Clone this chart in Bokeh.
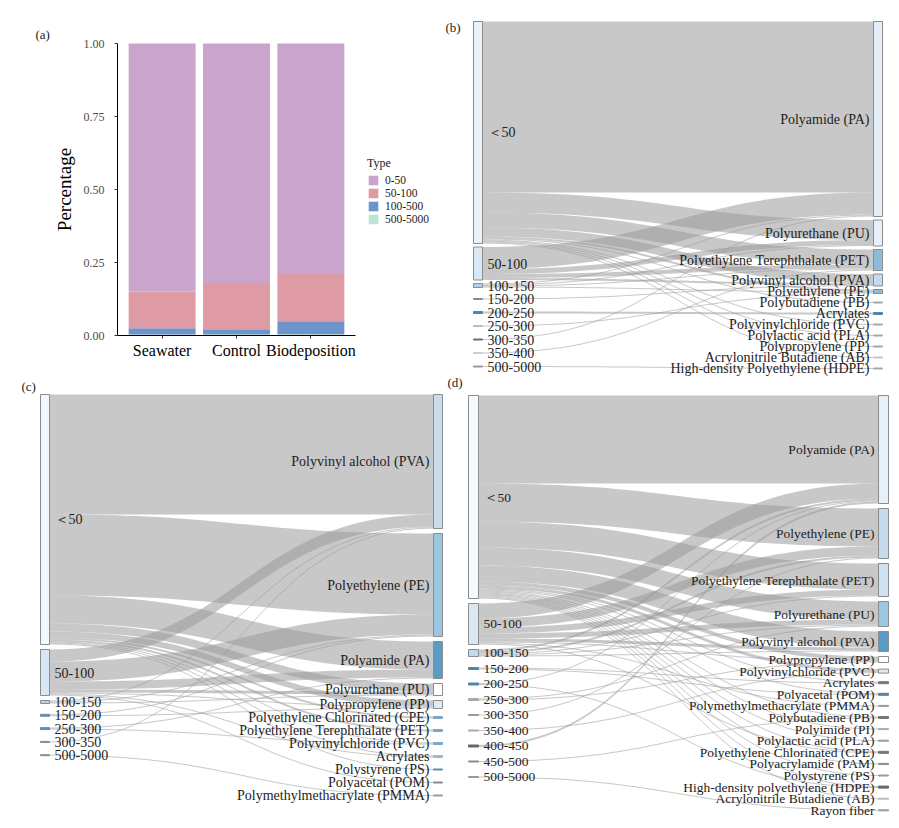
import numpy as np
from bokeh.plotting import figure
from bokeh.models import (Range1d, FixedTicker, Legend, LegendItem, LinearAxis,
                          ColumnDataSource, PrintfTickFormatter)
from bokeh.layouts import row, column
from bokeh.embed import file_html
from bokeh.resources import INLINE
from bokeh.core.properties import value

SERIF = "Liberation Serif"

# ---------------- (a) stacked shares ----------------
groups = ["Seawater", "Control", "Biodeposition"]
types = ["0-50", "50-100", "100-500", "500-5000"]
share_0_50 = [0.849, 0.820, 0.789]
share_50_100 = [0.126, 0.159, 0.162]
share_100_500 = [0.022, 0.018, 0.045]
share_500_5000 = [0.003, 0.003, 0.004]
y_ticks = [0.0, 0.25, 0.5, 0.75, 1.0]

# ---------------- (b) Seawater sankey ----------------
b_left = ["＜50", "50-100", "100-150", "150-200", "200-250", "250-300",
          "300-350", "350-400", "500-5000"]
b_right = ["Polyamide (PA)", "Polyurethane (PU)", "Polyethylene Terephthalate (PET)",
           "Polyvinyl alcohol (PVA)", "Polyethylene (PE)", "Polybutadiene (PB)",
           "Acrylates", "Polyvinylchloride (PVC)", "Polylactic acid (PLA)",
           "Polypropylene (PP)", "Acrylonitrile Butadiene (AB)",
           "High-density Polyethylene (HDPE)"]
b_src = [0, 0, 0, 0, 0, 0, 0, 0, 0, 0, 1, 1, 1, 1, 2, 2, 2, 2, 3, 4, 5, 6, 7, 8]
b_tgt = [0, 1, 2, 3, 4, 5, 7, 8, 9, 10, 0, 1, 2, 3, 0, 1, 2, 4, 3, 6, 4, 0, 2, 11]
b_val = [171, 20, 15, 9, 2, 1, 1, 1, 1, 1, 22, 5, 4, 2, 1, 1, 1, 1, 1, 2, 1, 1, 1, 1]

# ---------------- (c) Control sankey ----------------
c_left = ["＜50", "50-100", "100-150", "150-200", "250-300", "300-350", "500-5000"]
c_right = ["Polyvinyl alcohol (PVA)", "Polyethylene (PE)", "Polyamide (PA)",
           "Polyurethane (PU)", "Polypropylene (PP)", "Polyethylene Chlorinated (CPE)",
           "Polyethylene Terephthalate (PET)", "Polyvinylchloride (PVC)", "Acrylates",
           "Polystyrene (PS)", "Polyacetal (POM)", "Polymethylmethacrylate (PMMA)"]
c_src = [0, 0, 0, 0, 0, 0, 0, 0, 0, 0,
         1, 1, 1, 1, 1, 1, 1,
         2, 2, 2, 3, 3, 4, 4, 5, 6]
c_tgt = [0, 1, 2, 3, 4, 5, 6, 7, 8, 9,
         0, 1, 2, 3, 4, 8, 10,
         0, 1, 3, 1, 4, 2, 7, 0, 11]
c_val = [120, 81, 28, 8, 6, 2, 2, 1, 1, 1,
         12, 20, 8, 3, 1, 1, 1,
         1, 1, 1, 1, 1, 1, 1, 1, 1]

# ---------------- (d) Biodeposition sankey ----------------
d_left = ["＜50", "50-100", "100-150", "150-200", "200-250", "250-300", "300-350",
          "350-400", "400-450", "450-500", "500-5000"]
d_right = ["Polyamide (PA)", "Polyethylene (PE)", "Polyethylene Terephthalate (PET)",
           "Polyurethane (PU)", "Polyvinyl alcohol (PVA)", "Polypropylene (PP)",
           "Polyvinylchloride (PVC)", "Acrylates", "Polyacetal (POM)",
           "Polymethylmethacrylate (PMMA)", "Polybutadiene (PB)", "Polyimide (PI)",
           "Polylactic acid (PLA)", "Polyethylene Chlorinated (CPE)",
           "Polyacrylamide (PAM)", "Polystyrene (PS)", "High-density polyethylene (HDPE)",
           "Acrylonitrile Butadiene (AB)", "Rayon fiber"]
d_src = [0, 0, 0, 0, 0, 0, 0, 0, 0, 0, 0, 0, 0, 0, 0, 0, 0,
         1, 1, 1, 1, 1, 1, 1, 1,
         2, 2, 2, 2, 2, 3, 3, 4, 4, 5, 5, 6, 7, 8, 9, 10]
d_tgt = [0, 1, 2, 3, 4, 5, 6, 7, 8, 10, 11, 12, 13, 14, 15, 17, 16,
         0, 1, 2, 3, 4, 5, 9, 13,
         0, 1, 3, 2, 4, 7, 8, 16, 0, 3, 5, 1, 6, 0, 10, 18]
d_val = [88, 38, 26, 18, 16, 4, 3, 1, 1, 1, 1, 1, 1, 1, 1, 1, 1,
         15, 9, 6, 5, 3, 1, 1, 1,
         2, 2, 1, 1, 1, 1, 1, 1, 1, 1, 1, 1, 1, 2, 1, 1]

# ---------------- styles ----------------
C_PURPLE, C_PINK, C_BLUE, C_MINT = "#C9A5CB", "#DE9BA6", "#6D95CC", "#BDE3D3"
LINK_COLOR = "#9A9A9A"
NODE_LINE = "#8C8C8C"
TEXT_COLOR = "#222222"

b_left_colors = ["#EAF2FA", "#DAE8F5", "#B5D1E8", "#6F93AE", "#4F86AD", "#BDBDBD",
                 "#6E6E6E", "#CFCFCF", "#9A9A9A"]
b_right_colors = ["#E3EEF8", "#E6F0F8", "#8DBBD8", "#C4DAEE", "#8DBBD8", "#A8A8A8",
                  "#4F86AD", "#A8A8A8", "#A8A8A8", "#A8A8A8", "#C4C4C4", "#A8A8A8"]
c_left_colors = ["#F3F8FD", "#D9E7F4", "#B9D2E8", "#5F8FB0", "#5F8FB0", "#8A8A8A", "#8A8A8A"]
c_right_colors = ["#C9DCEE", "#9DC6E0", "#5B9BC8", "#FFFFFF", "#DDEBF6", "#7FA8C8",
                  "#7FA8C8", "#7FA8C8", "#9AB8CF", "#5F8FB0", "#8A8A8A", "#9A9A9A"]
d_left_colors = ["#F4F9FD", "#DAE8F5", "#C2D9EC", "#4F86AD", "#4F86AD", "#AAAAAA",
                 "#9A9A9A", "#AAAAAA", "#666666", "#8A8A8A", "#9A9A9A"]
d_right_colors = ["#E6F0F9", "#C6DBEE", "#CFE1F1", "#9DC6E0", "#5B9BC8", "#FFFFFF",
                  "#DDEBF6", "#777777", "#5F7F99", "#9A9A9A", "#777777", "#AAAAAA",
                  "#9A9A9A", "#777777", "#8A8A8A", "#9A9A9A", "#666666", "#BBBBBB",
                  "#9A9A9A"]

TOP_H, BOT_H = 376, 452
LEFT_W, RIGHT_W = 445, 454

# pixel frame of the bar area inside panel (a)
A_LEFT, A_RIGHT, A_TOP, A_BOTTOM = 117, 355, 43, 335


# ---------------- panel (a) ----------------
def panel_a():
    n = len(groups)
    xlo, xhi = 0.4, n + 0.6
    ux = (xhi - xlo) / (A_RIGHT - A_LEFT)
    uy = 1.0 / (A_BOTTOM - A_TOP)
    xr = Range1d(xlo - A_LEFT * ux, xhi + (LEFT_W - A_RIGHT) * ux)
    yr = Range1d(-(TOP_H - A_BOTTOM) * uy, 1 + A_TOP * uy)
    p = figure(width=LEFT_W, height=TOP_H, x_range=xr, y_range=yr,
               output_backend="svg", toolbar_location=None, min_border=0,
               x_axis_location=None, y_axis_location=None)
    xs = list(range(1, n + 1))
    src = ColumnDataSource(dict(x=xs, s0=share_0_50, s1=share_50_100,
                                s2=share_100_500, s3=share_500_5000))
    rs = p.vbar_stack(["s3", "s2", "s1", "s0"], x="x", width=0.9,
                      color=[C_MINT, C_BLUE, C_PINK, C_PURPLE], line_color=None,
                      source=src)
    items = [LegendItem(label=types[0], renderers=[rs[3]]),
             LegendItem(label=types[1], renderers=[rs[2]]),
             LegendItem(label=types[2], renderers=[rs[1]]),
             LegendItem(label=types[3], renderers=[rs[0]])]
    leg = Legend(items=items, title="Type", location=(367, TOP_H - 225),
                 padding=0, margin=0, spacing=1, glyph_height=12, glyph_width=12,
                 label_height=12, label_standoff=6,
                 label_text_font=SERIF, label_text_font_size="11.5px",
                 label_text_color=TEXT_COLOR, title_text_font=SERIF,
                 title_text_font_size="12px", title_text_font_style="normal",
                 title_text_color=TEXT_COLOR, title_standoff=3,
                 background_fill_alpha=0, border_line_alpha=0)
    p.add_layout(leg)
    p.grid.visible = False
    p.outline_line_color = None

    xax = LinearAxis(fixed_location=0, bounds=(xlo, xhi),
                     ticker=FixedTicker(ticks=xs),
                     major_label_overrides={x: g for x, g in zip(xs, groups)})
    yax = LinearAxis(fixed_location=xlo, bounds=(0, 1),
                     ticker=FixedTicker(ticks=y_ticks),
                     formatter=PrintfTickFormatter(format="%.2f"),
                     axis_label="Percentage")
    for ax in (xax, yax):
        ax.axis_line_color = "black"
        ax.axis_line_width = 1
        ax.major_tick_line_color = "#333333"
        ax.major_tick_out = 3
        ax.major_tick_in = 0
        ax.minor_tick_line_color = None
        ax.major_label_text_font = SERIF
    xax.major_label_text_font_size = "16px"
    xax.major_label_text_color = "black"
    xax.major_label_standoff = 3
    yax.major_label_text_font_size = "12px"
    yax.major_label_text_color = "#4D4D4D"
    yax.major_label_standoff = 10
    yax.axis_label_text_font = SERIF
    yax.axis_label_text_font_size = "19px"
    yax.axis_label_text_font_style = "normal"
    yax.axis_label_text_color = "black"
    yax.axis_label_standoff = 6
    p.add_layout(xax, "below")
    p.add_layout(yax, "left")
    p.text(x=[xlo - (A_LEFT - 35) * ux], y=[1 + (A_TOP - 34) * uy], text=["(a)"],
           text_font=value(SERIF), text_font_size="13px", text_baseline="middle",
           text_align="left", text_color=TEXT_COLOR)
    return p


# ---------------- sankey helpers ----------------
def stack_column(totals, top, gap, spacing, ky):
    pos = []
    prev_b = prev_c = None
    for v in totals:
        h = v * ky
        if prev_b is None:
            t = top
        else:
            t = max(prev_b + gap, prev_c + spacing - h / 2)
        pos.append((t, t + h))
        prev_b, prev_c = t + h, t + h / 2
    return pos


def band(x0, x1, y0, y1, w, n=40):
    t = np.linspace(0, 1, n)
    xm = (x0 + x1) / 2
    x = (1 - t) ** 3 * x0 + 3 * (1 - t) ** 2 * t * xm + 3 * (1 - t) * t ** 2 * xm + t ** 3 * x1
    s = 3 * t ** 2 - 2 * t ** 3
    yt = y0 + (y1 - y0) * s
    xs = np.concatenate([x, x[::-1]])
    ys = np.concatenate([yt, (yt + w)[::-1]])
    return list(xs), list(ys)


def sankey(W, H, left, right, src, tgt, val, lcol, rcol, xl, xr, nw, top,
           gap, s_left, s_right, fs, tag, tag_xy, ky=1.0):
    p = figure(width=W, height=H, x_range=Range1d(0, W), y_range=Range1d(H, 0),
               output_backend="svg", toolbar_location=None, min_border=0,
               x_axis_location=None, y_axis_location=None)
    p.grid.visible = False
    p.outline_line_color = None
    n = len(val)
    lt = [sum(v for s, v in zip(src, val) if s == i) for i in range(len(left))]
    rt = [sum(v for g, v in zip(tgt, val) if g == j) for j in range(len(right))]
    lpos = stack_column(lt, top, gap, s_left, ky)
    rpos = stack_column(rt, top, gap, s_right, ky)
    y0 = [0.0] * n
    y1 = [0.0] * n
    off = [a for a, _ in lpos]
    for k in sorted(range(n), key=lambda k: (src[k], tgt[k])):
        y0[k] = off[src[k]]
        off[src[k]] += val[k] * ky
    off = [a for a, _ in rpos]
    for k in sorted(range(n), key=lambda k: (tgt[k], src[k])):
        y1[k] = off[tgt[k]]
        off[tgt[k]] += val[k] * ky
    XS, YS = [], []
    for k in range(n):
        bx, by = band(xl + nw, xr, y0[k], y1[k], val[k] * ky)
        XS.append(bx)
        YS.append(by)
    p.patches(XS, YS, fill_color=LINK_COLOR, fill_alpha=0.55, line_color=None)

    def nodes(x, pos, cols):
        lc = [c if (b - a) < 3 else NODE_LINE for (a, b), c in zip(pos, cols)]
        p.quad(left=[x] * len(pos), right=[x + nw] * len(pos),
               top=[a for a, _ in pos], bottom=[b for _, b in pos],
               fill_color=cols, line_color=lc, line_width=1)

    nodes(xl, lpos, lcol)
    nodes(xr, rpos, rcol)
    p.text(x=[xl + nw + 5] * len(left), y=[(a + b) / 2 for a, b in lpos], text=left,
           text_align="left", text_baseline="middle", text_font=value(SERIF),
           text_font_size=f"{fs}px", text_color=TEXT_COLOR)
    p.text(x=[xr - 4] * len(right), y=[(a + b) / 2 for a, b in rpos], text=right,
           text_align="right", text_baseline="middle", text_font=value(SERIF),
           text_font_size=f"{fs}px", text_color=TEXT_COLOR)
    p.text(x=[tag_xy[0]], y=[tag_xy[1]], text=[tag], text_align="left",
           text_baseline="middle", text_font=value(SERIF), text_font_size="13px",
           text_color=TEXT_COLOR)
    return p


pa = panel_a()
pb = sankey(RIGHT_W, TOP_H, b_left, b_right, b_src, b_tgt, b_val,
            b_left_colors, b_right_colors, xl=28, xr=428, nw=9, top=21, gap=3.5,
            s_left=13.5, s_right=11, fs=14, tag="(b)", tag_xy=(0, 27))
pc = sankey(LEFT_W, BOT_H, c_left, c_right, c_src, c_tgt, c_val,
            c_left_colors, c_right_colors, xl=40, xr=433, nw=9, top=18, gap=5,
            s_left=13.3, s_right=13, fs=14, tag="(c)", tag_xy=(21, 10))
pd = sankey(RIGHT_W, BOT_H, d_left, d_right, d_src, d_tgt, d_val,
            d_left_colors, d_right_colors, xl=23, xr=433, nw=10, top=19, gap=5,
            s_left=15.5, s_right=11.6, fs=13.5, tag="(d)", tag_xy=(2, 6))

layout = column(row(pa, pb), row(pc, pd))
open("out.html", "w").write(file_html(layout, INLINE, title="Microplastics"))
